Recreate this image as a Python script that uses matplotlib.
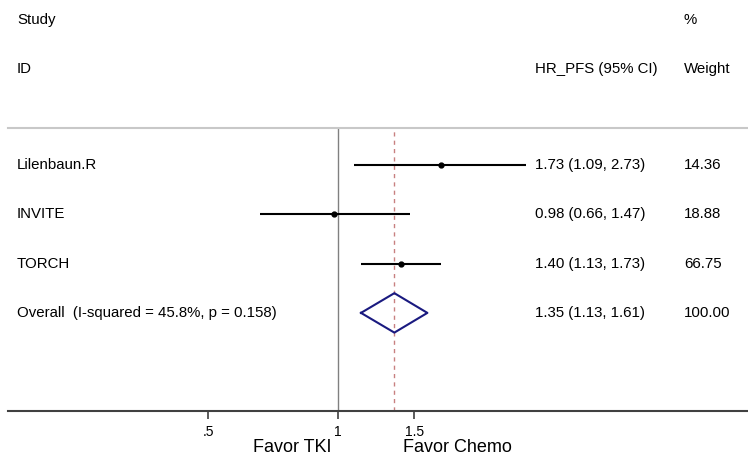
import numpy as np
import matplotlib.pyplot as plt
from matplotlib.transforms import blended_transform_factory

plt.rcParams['font.family'] = ['Liberation Sans', 'DejaVu Sans']

# study level data (HR for PFS with 95% CI)
studies = ['Lilenbaun.R', 'INVITE', 'TORCH']
hr = [1.73, 0.98, 1.40]
ci_low = [1.09, 0.66, 1.13]
ci_high = [2.73, 1.47, 1.73]
weights = [14.36, 18.88, 66.75]

# pooled estimate
overall_label = 'Overall  (I-squared = 45.8%, p = 0.158)'
overall_hr = 1.35
overall_low = 1.13
overall_high = 1.61
overall_weight = 100.00

tick_values = [0.5, 1, 1.5]
tick_labels = ['.5', '1', '1.5']

fig = plt.figure(figsize=(7.48, 4.57), dpi=100)
ax = fig.add_axes([8 / 748, 46 / 457, 740 / 748, 283 / 457])
ax.set_xscale('log')
ax.set_xlim(0.172, 8.9)
ax.set_ylim(5.99, 0.25)

rows = np.arange(1, len(studies) + 1)
overall_row = len(studies) + 1

# null line and pooled estimate line
ax.axvline(1, color='#808080', lw=1.0, zorder=1)
ax.axvline(overall_hr, color='#c88080', lw=1.0, ls=(0, (3, 3)), zorder=1)

# CIs and point estimates
for r, h, lo, hi in zip(rows, hr, ci_low, ci_high):
    ax.plot([lo, hi], [r, r], color='black', lw=1.5, solid_capstyle='butt', zorder=2)
    ax.plot([h], [r], 'o', color='black', ms=3.5, zorder=3)

# diamond for overall
dh = 0.4
ax.plot([overall_low, overall_hr, overall_high, overall_hr, overall_low],
        [overall_row, overall_row - dh, overall_row, overall_row + dh, overall_row],
        color='#1a1a80', lw=1.5, zorder=3)

# text columns
tr = blended_transform_factory(fig.transFigure, ax.transData)
fs = 10.8
x_study = 17 / 748
x_est = 535 / 748
x_wt = 684 / 748

ax.text(x_study, -1.95, 'Study', transform=tr, fontsize=fs, va='center', clip_on=False)
ax.text(x_study, -0.95, 'ID', transform=tr, fontsize=fs, va='center', clip_on=False)
ax.text(x_est, -0.95, 'HR_PFS (95% CI)', transform=tr, fontsize=fs, va='center', clip_on=False)
ax.text(x_wt, -1.95, '%', transform=tr, fontsize=fs, va='center', clip_on=False)
ax.text(x_wt, -0.95, 'Weight', transform=tr, fontsize=fs, va='center', clip_on=False)

for r, s, h, lo, hi, w in zip(rows, studies, hr, ci_low, ci_high, weights):
    ax.text(x_study, r, s, transform=tr, fontsize=fs, va='center')
    ax.text(x_est, r, f'{h:.2f} ({lo:.2f}, {hi:.2f})', transform=tr, fontsize=fs, va='center')
    ax.text(x_wt, r, f'{w:.2f}', transform=tr, fontsize=fs, va='center')

ax.text(x_study, overall_row, overall_label, transform=tr, fontsize=fs, va='center')
ax.text(x_est, overall_row, f'{overall_hr:.2f} ({overall_low:.2f}, {overall_high:.2f})',
        transform=tr, fontsize=fs, va='center')
ax.text(x_wt, overall_row, f'{overall_weight:.2f}', transform=tr, fontsize=fs, va='center')

# axis styling
for side in ['left', 'right']:
    ax.spines[side].set_visible(False)
ax.spines['top'].set_color('#c8c8c8')
ax.spines['top'].set_linewidth(1.5)
ax.spines['bottom'].set_color('#404040')
ax.spines['bottom'].set_linewidth(1.5)
ax.set_yticks([])
ax.set_xticks(tick_values)
ax.set_xticklabels(tick_labels)
ax.xaxis.set_minor_locator(plt.NullLocator())
ax.tick_params(axis='x', length=6, width=1.2, color='#404040', labelsize=10, pad=4)

# favour labels below axis
tb = blended_transform_factory(ax.transData, fig.transFigure)
ax.text(0.968, 5 / 457, 'Favor TKI', transform=tb, fontsize=13, ha='right', va='baseline')
ax.text(1.414, 5 / 457, 'Favor Chemo', transform=tb, fontsize=13, ha='left', va='baseline')

plt.savefig('out.png', dpi=100)
